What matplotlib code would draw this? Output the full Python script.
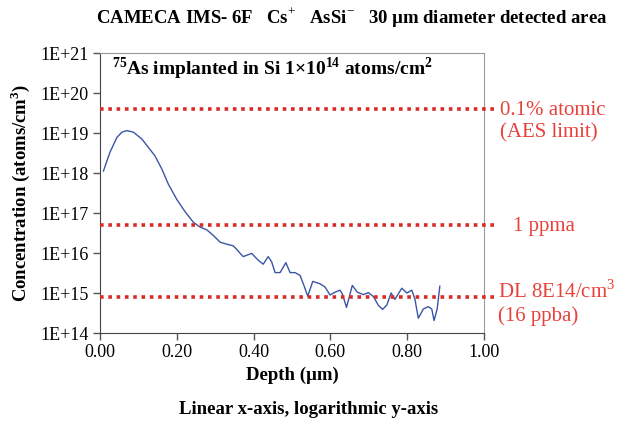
import numpy as np
import matplotlib
matplotlib.use('Agg')
import matplotlib.pyplot as plt
from matplotlib.ticker import FixedLocator, NullLocator

plt.rcParams['font.family'] = ['Liberation Serif', 'DejaVu Serif']
plt.rcParams['mathtext.fontset'] = 'custom'
plt.rcParams['mathtext.rm'] = 'Liberation Serif'
plt.rcParams['mathtext.bf'] = 'Liberation Serif:bold'

# As depth profile (depth in um, log10 of atoms/cm3)
depth = [0.009, 0.026, 0.044, 0.057, 0.070, 0.087, 0.109, 0.126, 0.143, 0.161,
         0.178, 0.200, 0.221, 0.243, 0.260, 0.278, 0.295, 0.313, 0.330, 0.347,
         0.360, 0.365, 0.373, 0.395, 0.412, 0.425, 0.438, 0.447, 0.456, 0.469,
         0.484, 0.495, 0.508, 0.521, 0.531, 0.541, 0.554, 0.573, 0.586, 0.599,
         0.612, 0.625, 0.631, 0.642, 0.657, 0.670, 0.686, 0.699, 0.712, 0.725,
         0.736, 0.747, 0.758, 0.768, 0.777, 0.786, 0.799, 0.812, 0.820, 0.829,
         0.842, 0.855, 0.864, 0.870, 0.878, 0.885]
log_conc = [18.05, 18.52, 18.89, 19.02, 19.06, 19.02, 18.85, 18.64, 18.43, 18.10,
            17.72, 17.34, 17.04, 16.77, 16.65, 16.58, 16.44, 16.27, 16.22, 16.18,
            16.05, 15.99, 15.91, 15.99, 15.82, 15.72, 15.91, 15.78, 15.51, 15.51,
            15.76, 15.51, 15.51, 15.44, 15.19, 14.92, 15.29, 15.23, 15.15, 14.95,
            15.02, 15.07, 14.98, 14.64, 15.19, 15.02, 14.96, 15.01, 14.91, 14.69,
            14.59, 14.70, 15.00, 14.84, 14.98, 15.12, 15.00, 15.07, 14.85, 14.37,
            14.60, 14.66, 14.60, 14.31, 14.60, 15.17]

# reference levels
ref_levels = [4e19, 5e16, 8e14]
ref_labels = ['0.1% atomic\n(AES limit)', '1 ppma', 'DL 8E14/cm$^{3}$\n(16 ppba)']

x_ticks = [0.0, 0.2, 0.4, 0.6, 0.8, 1.0]
y_ticks = [1e14, 1e15, 1e16, 1e17, 1e18, 1e19, 1e20, 1e21]
y_tick_labels = ['1E+14', '1E+15', '1E+16', '1E+17', '1E+18', '1E+19', '1E+20', '1E+21']

red = '#e8403a'
frame_grey = '#9a9a9a'

fig = plt.figure(figsize=(6.19, 4.26), dpi=100)
ax = fig.add_axes([100 / 619, 1 - 333 / 426, 384 / 619, 280 / 426])

conc = 10 ** np.array(log_conc)
ax.plot(depth, conc, color='#3b55a6', lw=1.0)

for lvl in ref_levels:
    ax.plot([0, 1.03], [lvl, lvl], color='#d92b26', lw=2.6, ls=(0, (1, 1.3)),
            dash_capstyle='butt', clip_on=False, zorder=3)

ax.set_yscale('log')
ax.set_xlim(0, 1)
ax.set_ylim(1e14, 1e21)
ax.xaxis.set_major_locator(FixedLocator(x_ticks))
ax.set_xticklabels([f'{t:.2f}' for t in x_ticks])
ax.yaxis.set_major_locator(FixedLocator(y_ticks))
ax.yaxis.set_minor_locator(NullLocator())
ax.set_yticklabels(y_tick_labels)
ax.tick_params(axis='both', direction='out', length=5, width=1, color='#555555',
               labelsize=13, pad=3)
for side in ax.spines.values():
    side.set_color(frame_grey)
ax.spines['left'].set_color('#444444')
ax.spines['bottom'].set_color('#444444')

ax.set_xlabel('Depth (\u00b5m)', fontsize=13.5, fontweight='bold', labelpad=4)
ax.set_ylabel('Concentration (atoms/cm$^{\\mathbf{3}}$)', fontsize=13.5, fontweight='bold',
              labelpad=6)

ax.text(0.03, 0.945, '$^{\\mathbf{75}}$As implanted in Si 1\u00d710$^{\\mathbf{14}}$ atoms/cm$^{\\mathbf{2}}$',
        transform=ax.transAxes, fontsize=14, fontweight='bold', va='center', ha='left')

# labels on the right of the dotted lines
fig.text(500 / 619, 1 - 122 / 426, ref_labels[0], color=red, fontsize=15, va='center',
         ha='left', linespacing=1.25)
fig.text(513 / 619, 1 - 226 / 426, ref_labels[1], color=red, fontsize=15, va='center', ha='left')
fig.text(498 / 619, 1 - 303 / 426, ref_labels[2], color=red, fontsize=15, va='center',
         ha='left', linespacing=1.25)

fig.text(352 / 619, 1 - 18 / 426,
         'CAMECA IMS- 6F   Cs$^{+}$   AsSi$^{-}$   30 \u00b5m diameter detected area',
         fontsize=13.5, fontweight='bold', ha='center', va='center')
fig.text(309 / 619, 1 - 410 / 426, 'Linear x-axis, logarithmic y-axis',
         fontsize=13.5, fontweight='bold', ha='center', va='center')

fig.savefig('out.png', dpi=100)
